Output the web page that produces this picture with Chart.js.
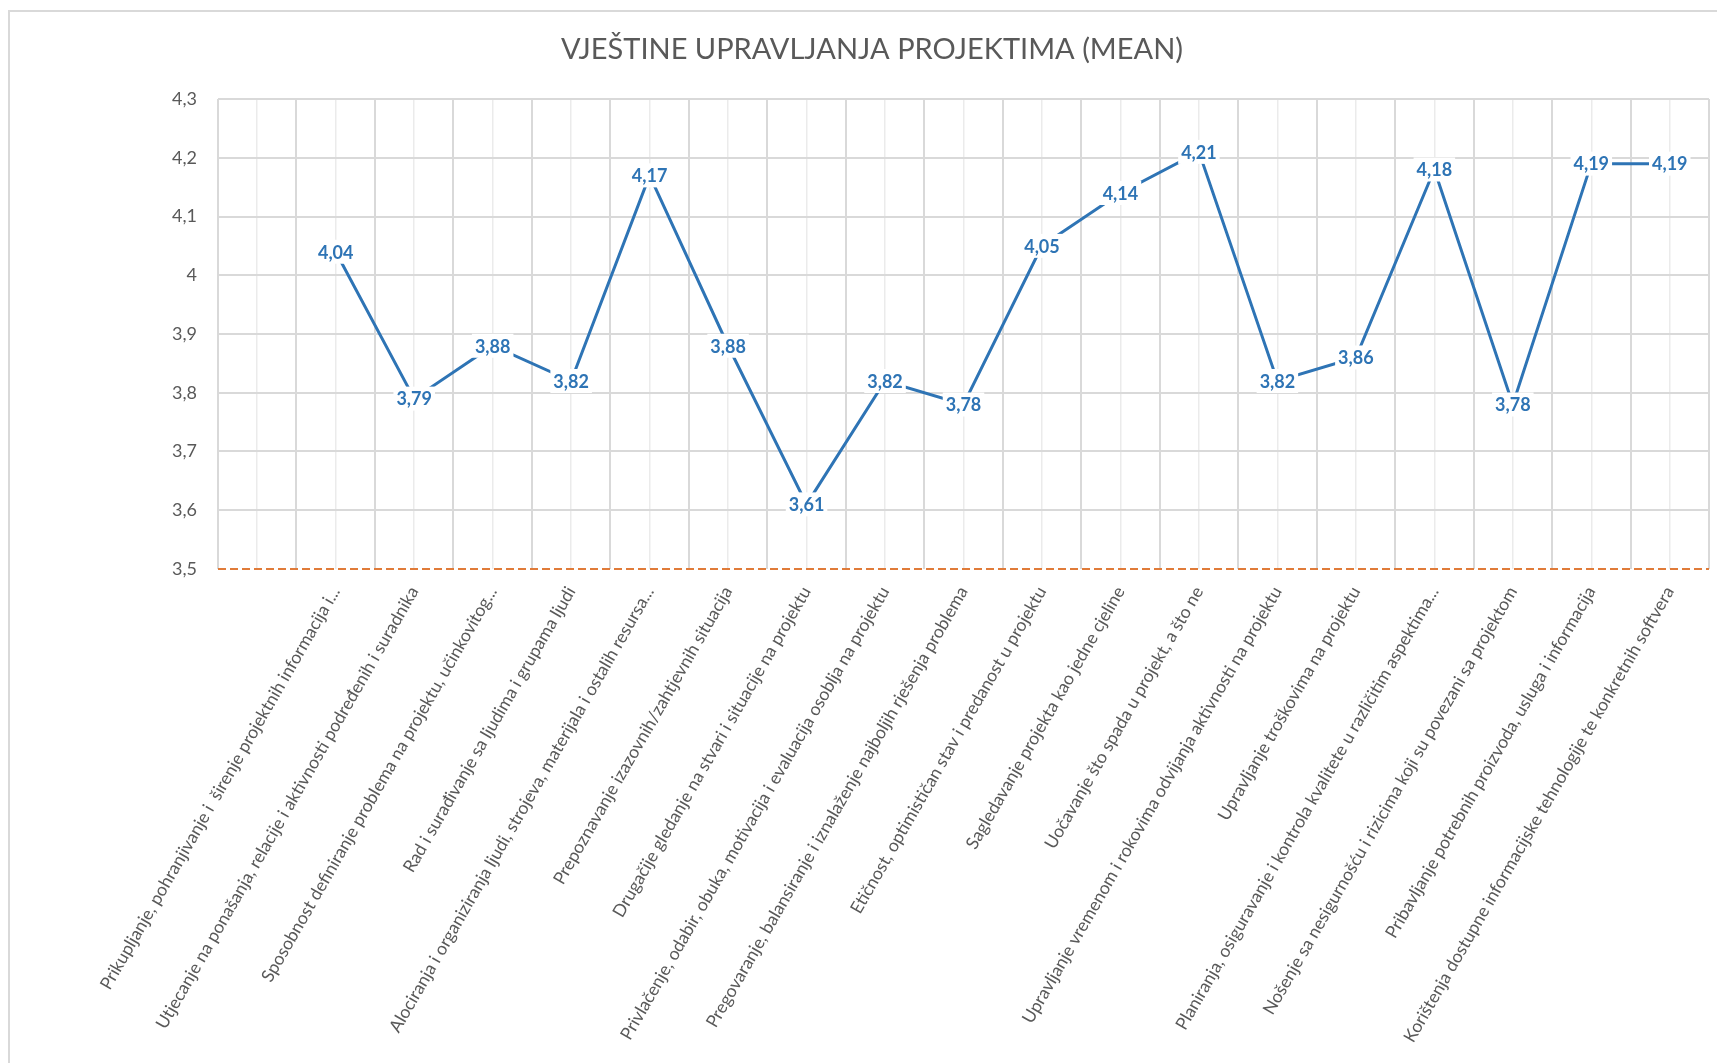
<!DOCTYPE html>
<html>
<head>
<meta charset="utf-8">
<script src="https://cdn.jsdelivr.net/npm/chart.js@4.4.0/dist/chart.umd.min.js"></script>
<style>
    html, body { margin: 0; padding: 0; background: #fff; }
    canvas { display: block; }
</style>
</head>
<body>
<canvas id="graphic__skills" width="1717" height="1063"></canvas>
<script>
const chartTitle = 'VJEŠTINE UPRAVLJANJA PROJEKTIMA (MEAN)';

// first category is empty in the original sheet
const skills = [
    '',
    'Prikupljanje, pohranjivanje i  širenje projektnih informacija i...',
    'Utjecanje na ponašanja, relacije i aktivnosti podređenih i suradnika',
    'Sposobnost definiranje problema na projektu, učinkovitog...',
    'Rad i surađivanje sa ljudima i grupama ljudi',
    'Alociranja i organiziranja ljudi, strojeva, materijala i ostalih resursa...',
    'Prepoznavanje izazovnih/zahtjevnih situacija',
    'Drugačije gledanje na stvari i situacije na projektu',
    'Privlačenje, odabir, obuka, motivacija i evaluacija osoblja na projektu',
    'Pregovaranje, balansiranje i iznalaženje najboljih rješenja problema',
    'Etičnost, optimističan stav i predanost u projektu',
    'Sagledavanje projekta kao jedne cjeline',
    'Uočavanje što spada u projekt, a što ne',
    'Upravljanje vremenom i rokovima odvijanja aktivnosti na projektu',
    'Upravljanje troškovima na projektu',
    'Planiranja, osiguravanje i kontrola kvalitete u različitim aspektima...',
    'Nošenje sa nesigurnošću i rizicima koji su povezani sa projektom',
    'Pribavljanje potrebnih proizvoda, usluga i informacija',
    'Korištenja dostupne informacijske tehnologije te konkretnih softvera'
];

const means = [null, 4.04, 3.79, 3.88, 3.82, 4.17, 3.88, 3.61, 3.82, 3.78,
    4.05, 4.14, 4.21, 3.82, 3.86, 4.18, 3.78, 4.19, 4.19];

const yMin = 3.5;
const yMax = 4.3;
const yStep = 0.1;

const lineColor = '#2E74B5';
const textColor = '#595959';
const gridColor = '#d9d9d9';

const fmtComma = (v, digits) => {
    if (digits === undefined) {
        return (Math.round(v * 10) / 10).toString().replace('.', ',');
    }
    return v.toFixed(digits).replace('.', ',');
};

// grey frame round the chart, like the excel chart border
const framePlugin = {
    id: 'frame',
    beforeDraw(chart) {
        const ctx = chart.ctx;
        ctx.save();
        ctx.strokeStyle = '#d9d9d9';
        ctx.lineWidth = 2;
        ctx.strokeRect(9, 11, 1760, 1100);
        ctx.restore();
    }
};

const titlePlugin = {
    id: 'sheetTitle',
    afterDraw(chart) {
        const ctx = chart.ctx;
        ctx.save();
        ctx.font = '29px Lato';
        ctx.fillStyle = textColor;
        ctx.textAlign = 'center';
        ctx.textBaseline = 'middle';
        ctx.fillText(chartTitle, 872, 50);
        ctx.restore();
    }
};

// orange dashed base line at the bottom of the value axis
const baseLine = {
    id: 'baseLine',
    beforeDatasetsDraw(chart) {
        const ctx = chart.ctx;
        const area = chart.chartArea;
        const y = chart.scales.y.getPixelForValue(yMin);
        ctx.save();
        ctx.strokeStyle = '#E07B39';
        ctx.lineWidth = 2;
        ctx.setLineDash([8, 4]);
        ctx.beginPath();
        ctx.moveTo(area.left, y);
        ctx.lineTo(area.right, y);
        ctx.stroke();
        ctx.restore();
    }
};

// value labels sit centred on the points with a white box behind
const valueLabels = {
    id: 'valueLabels',
    afterDatasetsDraw(chart) {
        const ctx = chart.ctx;
        const meta = chart.getDatasetMeta(0);
        ctx.save();
        ctx.font = 'bold 18px Lato';
        ctx.textAlign = 'center';
        ctx.textBaseline = 'middle';
        meta.data.forEach((pt, i) => {
            const v = means[i];
            if (v === null) return;
            const txt = fmtComma(v, 2);
            const w = ctx.measureText(txt).width + 6;
            ctx.fillStyle = '#fff';
            ctx.fillRect(pt.x - w / 2, pt.y - 12, w, 24);
            ctx.fillStyle = lineColor;
            ctx.fillText(txt, pt.x, pt.y + 1);
        });
        ctx.restore();
    }
};

const ctx = document.querySelector('#graphic__skills').getContext('2d');

const config = {
    type: 'line',
    data: {
        labels: skills,
        datasets: [
            {
                label: chartTitle,
                data: means,
                borderColor: lineColor,
                borderWidth: 3,
                pointRadius: 0,
                tension: 0,
                fill: false,
                spanGaps: false
            }
        ]
    },
    options: {
        responsive: false,
        animation: false,
        layout: {
            padding: { top: 99, right: 8, left: 0, bottom: 0 }
        },
        plugins: {
            legend: { display: false },
            title: { display: false },
            tooltip: { enabled: false }
        },
        scales: {
            x: {
                type: 'category',
                offset: true,
                grid: {
                    offset: true,
                    color: gridColor,
                    lineWidth: 2,
                    drawTicks: false
                },
                border: { display: false },
                ticks: {
                    autoSkip: false,
                    minRotation: 60,
                    maxRotation: 60,
                    padding: 14,
                    color: textColor,
                    font: { family: 'Lato', size: 17.5 }
                },
                afterFit(scale) {
                    scale.height = 1063 - 569;
                }
            },
            xMinor: {
                type: 'category',
                labels: skills,
                position: 'bottom',
                offset: true,
                grid: {
                    offset: false,
                    color: '#ebebeb',
                    lineWidth: 1.5,
                    drawTicks: false
                },
                border: { display: false },
                ticks: { display: false },
                afterFit(scale) {
                    scale.height = 0;
                }
            },
            y: {
                min: yMin,
                max: yMax,
                ticks: {
                    stepSize: yStep,
                    padding: 21,
                    color: textColor,
                    font: { family: 'Lato', size: 18 },
                    callback: (value) => fmtComma(value)
                },
                grid: {
                    drawTicks: false,
                    lineWidth: 2,
                    color: (c) => (c.tick && Math.abs(c.tick.value - yMin) < 1e-6) ? 'transparent' : gridColor
                },
                border: { display: false },
                afterFit(scale) {
                    scale.width = 218;
                }
            }
        }
    },
    plugins: [framePlugin, titlePlugin, baseLine, valueLabels]
};

const myChart = new Chart(ctx, config);
</script>
</body>
</html>
